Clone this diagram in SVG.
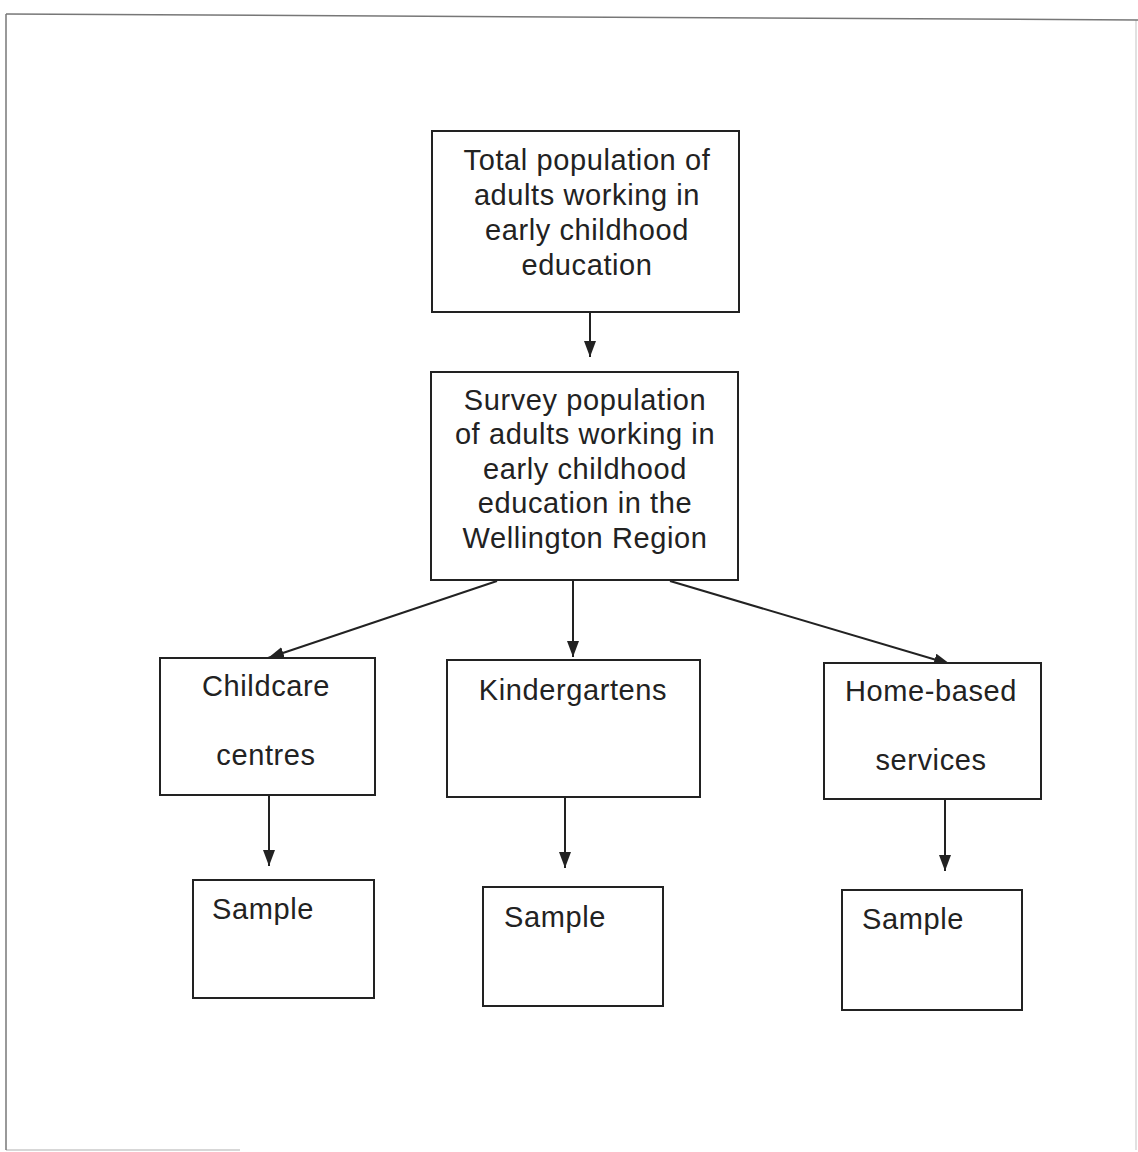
<svg xmlns="http://www.w3.org/2000/svg" width="1138" height="1152" viewBox="0 0 1138 1152">
<defs>
<marker id="ah" viewBox="0 0 16 12" refX="16" refY="6" markerWidth="16" markerHeight="12" markerUnits="userSpaceOnUse" orient="auto">
<path d="M0,0 L16,6 L0,12 z" fill="#222"/>
</marker>
<style>
.box{fill:#fff;stroke:#222;stroke-width:2}
.t{font-family:"Liberation Sans",Arial,sans-serif;font-size:29px;fill:#222;text-anchor:middle;letter-spacing:0.6px}
.ts{font-family:"Liberation Sans",Arial,sans-serif;font-size:29px;fill:#222;letter-spacing:0.6px}
.c{stroke:#222;stroke-width:2;fill:none;marker-end:url(#ah)}
.frame{stroke:#777;stroke-width:1.5;fill:none}
</style>
</defs>
<rect width="1138" height="1152" fill="#fff"/>
<g id="frame">
<path class="frame" d="M6,14 L1138,20"/>
<path class="frame" d="M6,14 L6,1150"/>
<path class="frame" d="M1136,20 L1136,1150" stroke-opacity="0.3"/>
<path class="frame" d="M6,1150 L240,1150" stroke-opacity="0.4"/>
</g>
<g id="connectors">
<line class="c" x1="590" y1="312" x2="590" y2="357"/>
<line class="c" x1="497" y1="581" x2="268" y2="658"/>
<line class="c" x1="573" y1="581" x2="573" y2="657"/>
<line class="c" x1="670" y1="581" x2="950" y2="664"/>
<line class="c" x1="269" y1="795" x2="269" y2="866"/>
<line class="c" x1="565" y1="797" x2="565" y2="868"/>
<line class="c" x1="945" y1="799" x2="945" y2="871"/>
</g>
<g id="total">
<rect class="box" x="432" y="131" width="307" height="181"/>
<text class="t" x="587" y="170">Total population of</text>
<text class="t" x="587" y="205">adults working in</text>
<text class="t" x="587" y="240">early childhood</text>
<text class="t" x="587" y="275">education</text>
</g>
<g id="survey">
<rect class="box" x="431" y="372" width="307" height="208"/>
<text class="t" x="585" y="410">Survey population</text>
<text class="t" x="585" y="444">of adults working in</text>
<text class="t" x="585" y="479">early childhood</text>
<text class="t" x="585" y="513">education in the</text>
<text class="t" x="585" y="548">Wellington Region</text>
</g>
<g id="childcare">
<rect class="box" x="160" y="658" width="215" height="137"/>
<text class="t" x="266" y="696">Childcare</text>
<text class="t" x="266" y="765">centres</text>
</g>
<g id="kindergartens">
<rect class="box" x="447" y="660" width="253" height="137"/>
<text class="t" x="573" y="700">Kindergartens</text>
</g>
<g id="homebased">
<rect class="box" x="824" y="663" width="217" height="136"/>
<text class="t" x="931" y="701">Home-based</text>
<text class="t" x="931" y="770">services</text>
</g>
<g id="sample1">
<rect class="box" x="193" y="880" width="181" height="118"/>
<text class="ts" x="212" y="919">Sample</text>
</g>
<g id="sample2">
<rect class="box" x="483" y="887" width="180" height="119"/>
<text class="ts" x="504" y="927">Sample</text>
</g>
<g id="sample3">
<rect class="box" x="842" y="890" width="180" height="120"/>
<text class="ts" x="862" y="929">Sample</text>
</g>
</svg>
